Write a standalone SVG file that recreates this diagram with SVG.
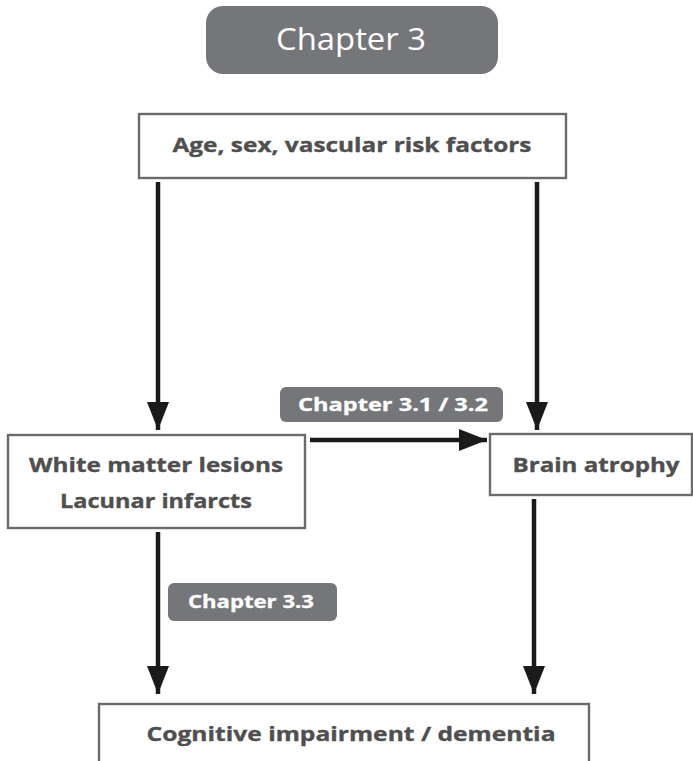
<svg xmlns="http://www.w3.org/2000/svg" width="693" height="761" viewBox="0 0 693 761">
<defs>
<style>
.box{fill:#fff;stroke:#6b6b6b;stroke-width:2.4}
.pill{fill:#75767a}
.t{font-family:"Open Sans","Liberation Sans",sans-serif;font-weight:bold;fill:#4f4f4f;stroke:#4f4f4f;stroke-width:0.35;text-anchor:middle;font-size:20px}
.pt{font-family:"Open Sans","Liberation Sans",sans-serif;font-weight:bold;fill:#fff;stroke:#fff;stroke-width:0.3;text-anchor:middle;font-size:17.5px}
.c{stroke:#1a1a1a;stroke-width:4.5;fill:none}
</style>
<marker id="av" viewBox="0 0 28 22" refX="28" refY="11" markerWidth="28" markerHeight="22" markerUnits="userSpaceOnUse" orient="auto">
<path d="M0,0 L28,11 L0,22 Z" fill="#1a1a1a"/>
</marker>
</defs>
<rect width="693" height="761" fill="#fff"/>
<g id="title">
<rect class="pill" x="206" y="6" width="292" height="68" rx="17"/>
<text x="351" y="50" textLength="150" lengthAdjust="spacingAndGlyphs" style="font-family:'Open Sans','Liberation Sans',sans-serif;font-weight:normal;font-size:31px;fill:#fff;text-anchor:middle">Chapter 3</text>
</g>
<g id="connectors">
<path class="c" d="M158,182 V430" marker-end="url(#av)"/>
<path class="c" d="M537,182 V430" marker-end="url(#av)"/>
<path class="c" d="M310,440 H487" marker-end="url(#av)"/>
<path class="c" d="M158,532 V694" marker-end="url(#av)"/>
<path class="c" d="M534,499 V694" marker-end="url(#av)"/>
</g>
<g id="risk">
<rect class="box" x="139" y="114" width="427" height="64"/>
<text class="t" x="352" y="152" textLength="359" lengthAdjust="spacingAndGlyphs">Age, sex, vascular risk factors</text>
</g>
<g id="ch31">
<rect class="pill" x="280" y="387" width="223" height="35" rx="6"/>
<text class="pt" x="393" y="411" textLength="190" lengthAdjust="spacingAndGlyphs">Chapter 3.1 / 3.2</text>
</g>
<g id="wml">
<rect class="box" x="8" y="435" width="297" height="93"/>
<text class="t" x="156" y="472" textLength="254" lengthAdjust="spacingAndGlyphs">White matter lesions</text>
<text class="t" x="156" y="508" textLength="192" lengthAdjust="spacingAndGlyphs">Lacunar infarcts</text>
</g>
<g id="atrophy">
<rect class="box" x="490" y="434" width="202" height="61"/>
<text class="t" x="596" y="472" textLength="167" lengthAdjust="spacingAndGlyphs">Brain atrophy</text>
</g>
<g id="ch33">
<rect class="pill" x="168" y="583" width="169" height="38" rx="6"/>
<text class="pt" x="251" y="608" textLength="126" lengthAdjust="spacingAndGlyphs">Chapter 3.3</text>
</g>
<g id="cognitive">
<rect class="box" x="99" y="704" width="490" height="70"/>
<text class="t" x="351" y="741" textLength="409" lengthAdjust="spacingAndGlyphs">Cognitive impairment / dementia</text>
</g>
</svg>
